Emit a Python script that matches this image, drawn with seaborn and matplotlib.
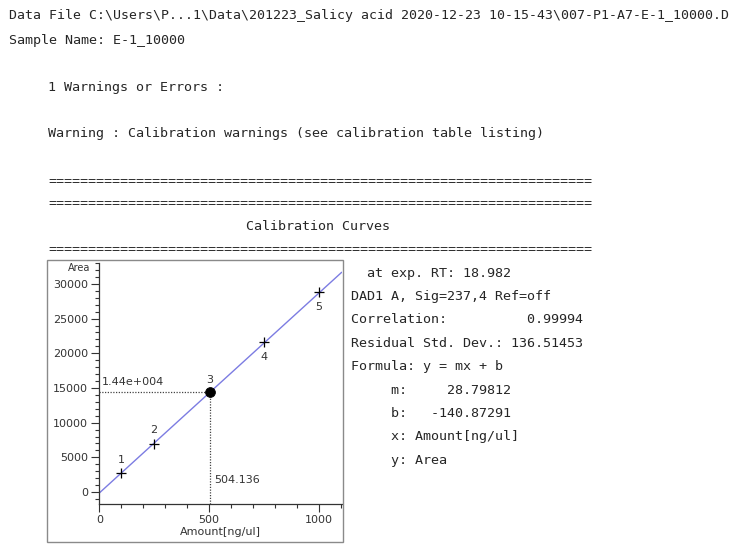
import matplotlib
matplotlib.use("Agg")
import matplotlib.pyplot as plt
from matplotlib.patches import Rectangle
from matplotlib.ticker import MultipleLocator, FixedLocator
import numpy as np
import pandas as pd
import seaborn as sns

# ---------------- data ----------------
level_ids = ["1", "2", "4", "5"]
level_amounts = [100, 250, 750, 1000]
level_areas = [2720, 6990, 21560, 28830]
sample_id = "3"
sample_amount = 504.136
sample_area = 14400
sample_area_label = "1.44e+004"
sample_amount_label = "504.136"
slope_m = 28.79812
intercept_b = -140.87291
fit_x = [0, 1105]
x_limits = [0, 1105]
y_limits = [-1770, 33020]
x_major_ticks = [0, 500, 1000]
y_major_ticks = [0, 5000, 10000, 15000, 20000, 25000, 30000]
x_label = "Amount[ng/ul]"
y_label = "Area"

header_lines = [
    "Data File C:\\Users\\P...1\\Data\\201223_Salicy acid 2020-12-23 10-15-43\\007-P1-A7-E-1_10000.D",
    "Sample Name: E-1_10000",
]
warning_lines = [
    "1 Warnings or Errors :",
    "Warning : Calibration warnings (see calibration table listing)",
]
rule_line = "=" * 68
section_title = "Calibration Curves"
info_lines = [
    "  at exp. RT: 18.982",
    "DAD1 A, Sig=237,4 Ref=off",
    "Correlation:          0.99994",
    "Residual Std. Dev.: 136.51453",
    "Formula: y = mx + b",
    "     m:     28.79812",
    "     b:   -140.87291",
    "     x: Amount[ng/ul]",
    "     y: Area",
]

# ---------------- figure ----------------
W, H = 741, 551
sns.set_style("ticks")
plt.rcParams["font.family"] = ["DejaVu Sans"]
fig = plt.figure(figsize=(W / 100, H / 100), dpi=100)
fig.patch.set_facecolor("white")

mono = dict(family="DejaVu Sans Mono", size=9.6, color="#262626", va="center", ha="left")

def ftext(px, py, s, **kw):
    opts = dict(mono)
    opts.update(kw)
    fig.text(px / W, 1 - py / H, s, **opts)

ftext(9, 15, header_lines[0], size=9.55)
ftext(9, 40.5, header_lines[1])
ftext(48, 88, warning_lines[0])
ftext(48, 133, warning_lines[1])
ftext(48, 182, rule_line)
ftext(48, 204, rule_line)
ftext(246, 227, section_title)
ftext(48, 250, rule_line)

y0, step = 273, 23.4
for i, s in enumerate(info_lines):
    ftext(351, y0 + i * step, s)

# frame around the plot
fig.add_artist(Rectangle((47 / W, 1 - 542 / H), (343 - 47) / W, (542 - 260) / H,
                         transform=fig.transFigure, fill=False,
                         edgecolor="#8a8a8a", linewidth=1.0))

ax_left, ax_right, ax_top, ax_bottom = 99.3, 341.7, 263, 504.3
ax = fig.add_axes([ax_left / W, 1 - ax_bottom / H, (ax_right - ax_left) / W, (ax_bottom - ax_top) / H])
ax.set_facecolor("none")

fit_df = pd.DataFrame({"amount": fit_x, "area": [slope_m * v + intercept_b for v in fit_x]})
sns.lineplot(data=fit_df, x="amount", y="area", ax=ax, color="#7c7ce2", linewidth=1.0)

lvl_df = pd.DataFrame({"amount": level_amounts, "area": level_areas, "id": level_ids})
sns.scatterplot(data=lvl_df, x="amount", y="area", ax=ax, marker="+", s=60,
                color="black", linewidth=0.9, zorder=4)

# sample point with dotted guides
ax.plot([x_limits[0], sample_amount], [sample_area, sample_area], ls=(0, (1, 1.2)),
        color="#444444", lw=0.9, zorder=3)
ax.plot([sample_amount, sample_amount], [y_limits[0], sample_area], ls=(0, (1, 1.2)),
        color="#444444", lw=0.9, zorder=3)
sns.scatterplot(x=[sample_amount], y=[sample_area], ax=ax, s=50, color="black",
                edgecolor="black", zorder=5)

lab_font = dict(family="DejaVu Sans", size=8, color="#333333")
for a, v, t in zip(level_amounts, level_areas, level_ids):
    above = v < sample_area
    ax.annotate(t, (a, v), textcoords="offset points", xytext=(0, 9.5 if above else -10.5),
                ha="center", va="center", **lab_font)
ax.annotate(sample_id, (sample_amount, sample_area), textcoords="offset points",
            xytext=(0, 9), ha="center", va="center", **lab_font)
ax.annotate(sample_area_label, (x_limits[0], sample_area), textcoords="offset points",
            xytext=(1.5, 7), ha="left", va="center", **lab_font)
ax.annotate(sample_amount_label, (sample_amount, y_limits[0]), textcoords="offset points",
            xytext=(3, 17.5), ha="left", va="center", **lab_font)

ax.set_xlim(*x_limits)
ax.set_ylim(*y_limits)
ax.xaxis.set_major_locator(FixedLocator(x_major_ticks))
ax.xaxis.set_minor_locator(MultipleLocator(100))
ax.yaxis.set_major_locator(FixedLocator(y_major_ticks))
ax.yaxis.set_minor_locator(MultipleLocator(1000))
ax.set_xticklabels([str(v) for v in x_major_ticks])
ax.set_yticklabels([str(v) for v in y_major_ticks])

for side in ["top", "right"]:
    ax.spines[side].set_visible(False)
for side in ["left", "bottom"]:
    ax.spines[side].set_color("#333333")
    ax.spines[side].set_linewidth(0.9)

ax.tick_params(which="major", direction="out", length=5.5, width=0.8, color="#333333",
               labelsize=8, labelcolor="#333333", pad=2.5)
ax.tick_params(which="minor", direction="out", length=2.8, width=0.8, color="#333333")
for lbl in ax.get_xticklabels() + ax.get_yticklabels():
    lbl.set_family("DejaVu Sans")

ax.set_xlabel(x_label, fontsize=8, color="#333333", labelpad=1.5)
ax.set_ylabel("")
ax.text(-0.082, 0.978, y_label, transform=ax.transAxes, ha="center", va="center",
        fontsize=7, color="#333333")

fig.savefig("out.png", dpi=100, facecolor="white")
